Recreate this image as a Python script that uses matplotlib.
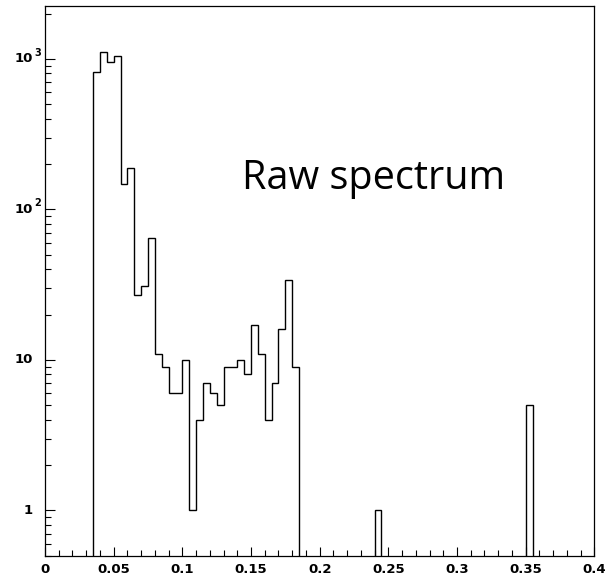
import matplotlib
matplotlib.use("Agg")
import matplotlib.pyplot as plt
from matplotlib.ticker import MultipleLocator, LogLocator, NullFormatter, FixedLocator

# Histogram: 80 bins of width 0.005 between 0 and 0.4
x_min, x_max, n_bins = 0.0, 0.4, 80
counts = [
    0, 0, 0, 0, 0, 0, 0, 813, 1106, 949,
    1050, 148, 189, 27, 31, 65, 11, 9, 6, 6,
    10, 1, 4, 7, 6, 5, 9, 9, 10, 8,
    17, 11, 4, 7, 16, 34, 9, 0, 0, 0,
    0, 0, 0, 0, 0, 0, 0, 0, 1, 0,
    0, 0, 0, 0, 0, 0, 0, 0, 0, 0,
    0, 0, 0, 0, 0, 0, 0, 0, 0, 0,
    5, 0, 0, 0, 0, 0, 0, 0, 0, 0,
]
x_ticks = [0, 0.05, 0.1, 0.15, 0.2, 0.25, 0.3, 0.35, 0.4]
x_tick_labels = ["0", "0.05", "0.1", "0.15", "0.2", "0.25", "0.3", "0.35", "0.4"]
y_ticks = [1, 10, 100, 1000]
y_tick_bases = ["1", "10", "10", "10"]
y_tick_exps = ["", "", "2", "3"]
y_range = (0.5, 2255)
title_text = "Raw spectrum"

edges = [x_min + i * (x_max - x_min) / n_bins for i in range(n_bins + 1)]

W, H = 609, 577
fig = plt.figure(figsize=(W / 100, H / 100), dpi=100)
ax = fig.add_axes([45 / W, 21.3 / H, 549.3 / W, 550 / H])

ax.stairs(counts, edges, baseline=0, color="black", lw=1.0, fill=False)

ax.set_yscale("log")
ax.set_xlim(x_min, x_max)
ax.set_ylim(*y_range)

for s in ax.spines.values():
    s.set_linewidth(0.9)
    s.set_color("black")

tick_font = dict(family="DejaVu Sans", weight="bold", size=9.5)

ax.xaxis.set_major_locator(FixedLocator(x_ticks))
ax.xaxis.set_minor_locator(MultipleLocator(0.01))
ax.set_xticklabels(x_tick_labels, **tick_font)
ax.tick_params(axis="x", which="major", direction="in", length=6.5, width=0.8,
               pad=5.0, top=False)
ax.tick_params(axis="x", which="minor", direction="in", length=4.0, width=0.8,
               top=False)

ax.yaxis.set_major_locator(FixedLocator(y_ticks))
ax.yaxis.set_minor_locator(LogLocator(base=10, subs=range(2, 10), numticks=20))
ax.yaxis.set_major_formatter(NullFormatter())
ax.yaxis.set_minor_formatter(NullFormatter())
ax.tick_params(axis="y", which="major", direction="in", length=7.2, width=0.8,
               right=False)
ax.tick_params(axis="y", which="minor", direction="in", length=4.3, width=0.8,
               right=False)

ytrans = ax.get_yaxis_transform()
for v, base, ex in zip(y_ticks, y_tick_bases, y_tick_exps):
    ax.annotate(base, xy=(0, v), xycoords=ytrans, xytext=(-9.0, 0),
                textcoords="offset points", ha="right", va="center", **tick_font)
    if ex:
        ax.annotate(ex, xy=(0, v), xycoords=ytrans, xytext=(-7.7, 4.3),
                    textcoords="offset points", ha="left", va="center",
                    family="DejaVu Sans", weight="bold", size=7)

ax.text(0.1435, 136, title_text, family="Open Sans", size=28.5, color="black",
        ha="left", va="baseline")

fig.savefig("out.png", dpi=100)
